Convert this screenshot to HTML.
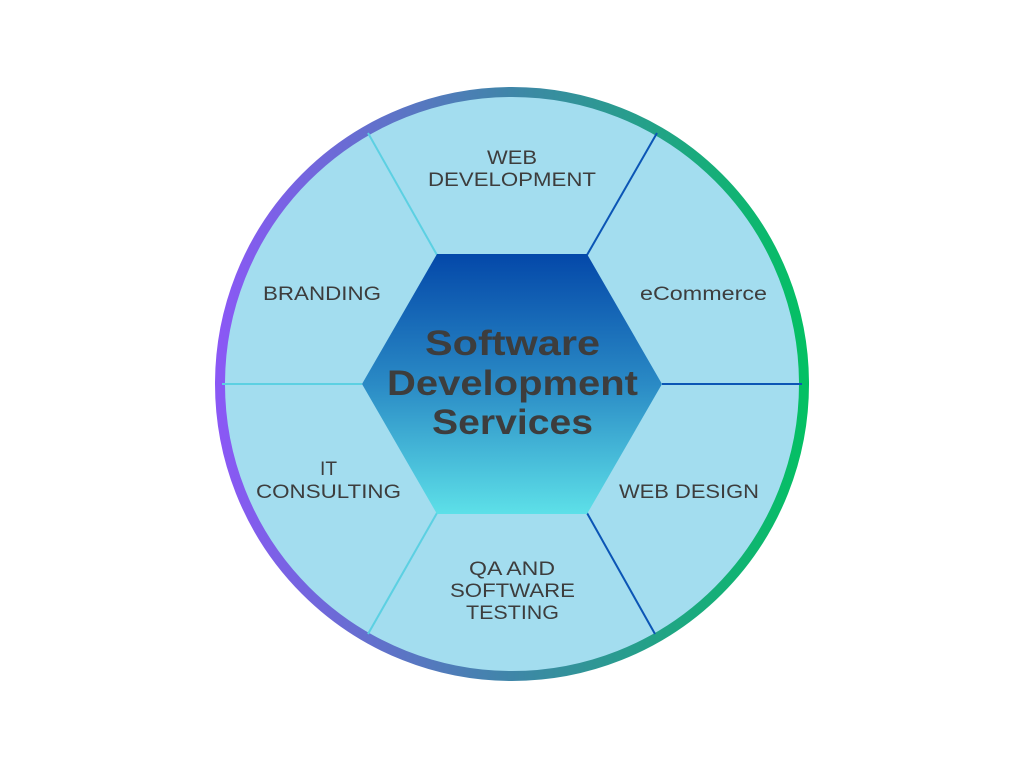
<!DOCTYPE html>
<html><head><meta charset="utf-8"><style>
html,body{margin:0;padding:0;background:#fff;}
svg{display:block;}
text{font-family:"Liberation Sans",sans-serif;fill:#3d3d3d;}
</style></head><body>
<svg width="1024" height="768" viewBox="0 0 1024 768" xmlns="http://www.w3.org/2000/svg">
<defs>
<linearGradient id="ring" x1="0" y1="0" x2="1" y2="0">
<stop offset="0" stop-color="#8a58f5"/>
<stop offset="0.5" stop-color="#3f86a8"/>
<stop offset="1" stop-color="#04c064"/>
</linearGradient>
<linearGradient id="hex" x1="0" y1="0" x2="0" y2="1">
<stop offset="0" stop-color="#0448a9"/>
<stop offset="0.5" stop-color="#2a8ac5"/>
<stop offset="1" stop-color="#5de0e8"/>
</linearGradient>
</defs>
<circle cx="512" cy="384" r="292" fill="#a3ddef" stroke="url(#ring)" stroke-width="10"/>
<g stroke-width="2">
<line x1="437" y1="255" x2="368" y2="133" stroke="#5cd0e2"/>
<line x1="362" y1="384" x2="222" y2="384" stroke="#5cd0e2"/>
<line x1="437" y1="513" x2="368" y2="634" stroke="#5cd0e2"/>
<line x1="587" y1="255" x2="657" y2="133" stroke="#0b55b5"/>
<line x1="662" y1="384" x2="802" y2="384" stroke="#0b55b5"/>
<line x1="587" y1="513" x2="655" y2="634" stroke="#0b55b5"/>
</g>
<polygon points="437,254 587,254 662,384 587,514 437,514 362,384" fill="url(#hex)"/>
<g font-size="35" font-weight="bold">
<text x="425" y="355" textLength="175" lengthAdjust="spacingAndGlyphs">Software</text>
<text x="387" y="395" textLength="251" lengthAdjust="spacingAndGlyphs">Development</text>
<text x="432" y="434" textLength="161" lengthAdjust="spacingAndGlyphs">Services</text>
</g>
<g font-size="19" lengthAdjust="spacingAndGlyphs">
<text x="487" y="164" textLength="50" lengthAdjust="spacingAndGlyphs">WEB</text>
<text x="428" y="186" textLength="168" lengthAdjust="spacingAndGlyphs">DEVELOPMENT</text>
<text x="263" y="300" textLength="118" lengthAdjust="spacingAndGlyphs">BRANDING</text>
<text x="640" y="300" textLength="127" lengthAdjust="spacingAndGlyphs">eCommerce</text>
<text x="320" y="475" textLength="17" lengthAdjust="spacingAndGlyphs">IT</text>
<text x="256" y="498" textLength="145" lengthAdjust="spacingAndGlyphs">CONSULTING</text>
<text x="619" y="498" textLength="140" lengthAdjust="spacingAndGlyphs">WEB DESIGN</text>
<text x="469" y="575" textLength="86" lengthAdjust="spacingAndGlyphs">QA AND</text>
<text x="450" y="597" textLength="125" lengthAdjust="spacingAndGlyphs">SOFTWARE</text>
<text x="466" y="619" textLength="93" lengthAdjust="spacingAndGlyphs">TESTING</text>
</g>
</svg>
</body></html>
